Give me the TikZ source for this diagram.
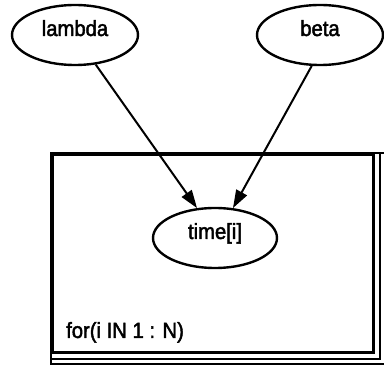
\documentclass[tikz,border=0pt]{standalone}
\usepackage{fontspec}
\setmainfont{Liberation Sans}[FakeStretch=0.92,FakeBold=2]
\usetikzlibrary{shapes.geometric,arrows.meta,calc}
\begin{document}
\begin{tikzpicture}[x=1pt,y=-1pt,
  txt/.style={font=\fontsize{22}{24}\selectfont},
  stoch/.style={txt,draw,line width=2.4pt,ellipse,minimum width=126pt,minimum height=60pt,
    inner sep=0pt,text height=16pt,text depth=14pt},
  edge/.style={line width=2pt,-{Triangle[length=18pt,width=12pt]}},
  platebox/.style={draw,line width=2.6pt,rectangle,inner sep=0pt},
  plateback/.style={line width=2pt},
  platelabel/.style={txt,inner sep=0pt}]
  \useasboundingbox (0,0) rectangle (384,366);
  % plate with its stacked copies
  \node[platebox,minimum width=321pt,minimum height=198pt,anchor=north west] (plate) at (51,153) {};
  \draw[plateback] (plate.north west) rectangle ($(plate.south east)+(5,5)$);
  \draw[plateback] (plate.north west) rectangle ($(plate.south east)+(10,10)$);
  \node[platelabel,anchor=base west] (loop) at (66,338) {for(i IN 1 : N)};
  % stochastic nodes
  \node[stoch] (lambda) at (75,35) {lambda};
  \node[stoch] (beta) at (320,35) {beta};
  \node[stoch,minimum width=124pt] (time) at (215,238) {time[i]};
  % dependencies
  \draw[edge] (lambda.-55) -- (time.121);
  \draw[edge] (beta.-105) -- (time.59);
\end{tikzpicture}
\end{document}
